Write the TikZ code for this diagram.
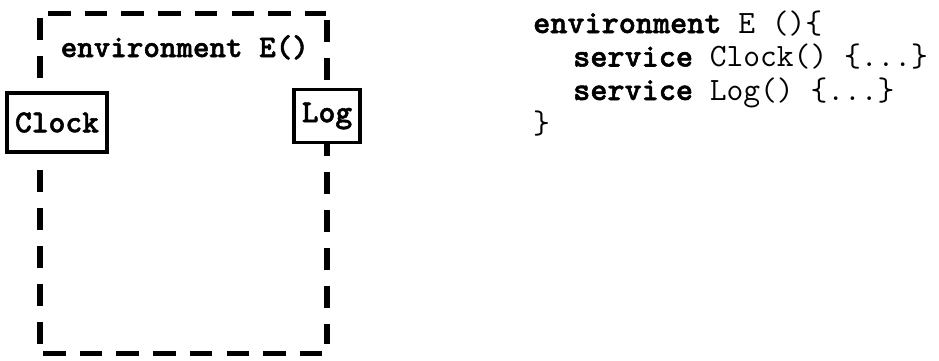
\documentclass[tikz,border=0pt]{standalone}
\usepackage{fontspec}
\newfontfamily\kwfont{lmmonolt10-bold.otf}[FakeBold=1.6]
\newcommand{\kwd}[1]{{\kwfont #1}}
\begin{document}
\begin{tikzpicture}[x=1pt,y=-1pt,
  font=\ttfamily\fontsize{32.6}{30}\selectfont,
  vdash/.style={line width=5.5pt, dash pattern=on 22pt off 16pt},
  hdash/.style={line width=5pt, dash pattern=on 22.5pt off 14.2pt},
  svc/.style={draw, line width=3.2pt, fill=white, inner sep=0pt,
    font=\kwfont\fontsize{32}{30}\selectfont},
  codeline/.style={anchor=base west, inner sep=0pt}]
\useasboundingbox (0,0) rectangle (939,360);
% environment container
\node[inner sep=0pt, minimum width=287pt, minimum height=340pt] (env) at (183.5,183) {};
\coordinate (lt) at (40,18);   \coordinate (lb) at (40,344);
\coordinate (rt) at (327,20);  \coordinate (rb) at (327,344);
\coordinate (tl) at (48,13);   \coordinate (tr) at (326,13);
\coordinate (bl) at (43,353);  \coordinate (br) at (323,353);
\draw[vdash] (lt) -- (lb);
\draw[vdash] (rt) -- (rb);
\draw[hdash] (tl) -- (tr);
\draw[hdash] (bl) -- (br);
\node[anchor=base west, inner sep=0pt, font=\kwfont\fontsize{31.5}{30}\selectfont] (envlabel) at (60.5,57) {environment E()};
% services
\node[svc, minimum width=100pt, minimum height=59pt] (clock) at (57,122.5) {Clock};
\node[svc, minimum width=66pt, minimum height=53pt] (log) at (327,116) {Log};
% code
\node[codeline] (c1) at (533,33) {\kwd{environment} E ()\{};
\node[codeline] (c2) at (573,66.5) {\kwd{service} Clock() \{...\}};
\node[codeline] (c3) at (573,100) {\kwd{service} Log() \{...\}};
\node[codeline] (c4) at (533,133) {\}};
\end{tikzpicture}
\end{document}
